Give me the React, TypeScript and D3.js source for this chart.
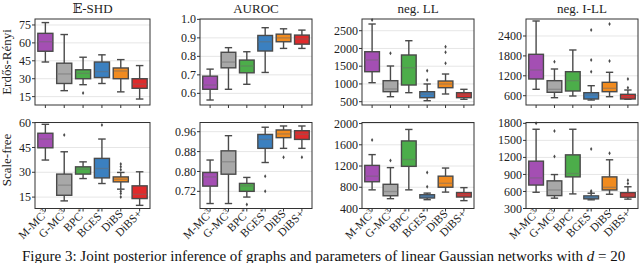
import { useEffect, useRef } from 'react';
import * as d3 from 'd3';

const methods = ['M-MC', 'G-MC', 'BPC', 'BGES', 'DiBS', 'DiBS+'];
const methodSup = ['3', '3', '*', '*', '', ''];
const colors = ['#a44fb3', '#a8a8a8', '#4cad4a', '#3b80c0', '#f18b1f', '#e02a2b'];

const titles = ['\u{1D53C}-SHD', 'AUROC', 'neg. LL', 'neg. I-LL'];
const rowLabels = ['Erdős-Rényi', 'Scale-free'];

// box stats: [whisker low, q1, median, q3, whisker high]
const erShdBoxes = [[44, 53, 61, 68, 77], [20, 26, 34, 43, 67], [25, 30, 34.5, 37.5, 48], [26, 31, 36, 44, 50], [19, 30, 36.5, 39, 46], [13, 22, 25.5, 30, 41]];
const erShdOut = [[], [], [18], [], [], []];
const erAurocBoxes = [[0.564, 0.622, 0.645, 0.693, 0.731], [0.622, 0.738, 0.769, 0.822, 0.847], [0.649, 0.711, 0.748, 0.78, 0.825], [0.713, 0.829, 0.879, 0.913, 0.955], [0.843, 0.879, 0.9, 0.92, 0.949], [0.843, 0.866, 0.894, 0.915, 0.942]];
const erAurocOut = [[], [], [], [], [], []];
const erLLBoxes = [[1035, 1345, 1675, 1908, 2689], [641, 782, 858, 1092, 1506], [754, 970, 1458, 1816, 2218], [528, 613, 708, 782, 999], [717, 894, 999, 1083, 1280], [567, 613, 689, 754, 849]];
const erLLOut = [[2801], [1863], [], [1111, 1373], [1582, 1891, 2049], []];
const erILLBoxes = [[793, 1104, 1375, 1848, 2852], [540, 703, 793, 1053, 1405], [591, 742, 1053, 1324, 1978], [470, 501, 621, 691, 902], [570, 721, 823, 1004, 1306], [491, 501, 570, 642, 772]];
const erILLOut = [[], [1625], [], [1324, 1676, 2581], [1646, 2762], [841, 1104]];

const sfShdBoxes = [[37.4, 44.8, 50.1, 53.6, 59], [12.7, 16.1, 22.2, 28.9, 42.4], [26.2, 28.9, 31.9, 33.3, 36.3], [23.2, 26.6, 32.3, 38.4, 50.1], [19.8, 24.2, 25.8, 27.2, 29.9], [10, 14.1, 16.7, 21.8, 30.3]];
const sfShdOut = [[], [52.5], [], [58.6], [31.5, 33.3, 35, 18.6, 17.1, 15], []];
const sfAurocBoxes = [[0.671, 0.741, 0.778, 0.796, 0.846], [0.671, 0.789, 0.839, 0.883, 0.944], [0.697, 0.72, 0.742, 0.752, 0.776], [0.836, 0.893, 0.929, 0.949, 0.978], [0.893, 0.936, 0.951, 0.967, 0.983], [0.893, 0.929, 0.95, 0.964, 0.983]];
const sfAurocOut = [[], [], [0.667], [0.781, 0.72], [0.857], [0.857]];
const sfLLBoxes = [[751, 904, 1009, 1212, 1415], [585, 640, 720, 856, 1170], [751, 1194, 1323, 1673, 1889], [566, 598, 627, 659, 690], [709, 801, 875, 1009, 1162], [548, 616, 659, 701, 793]];
const sfLLOut = [[1692], [1304], [], [812, 1078], [], []];
const sfILLBoxes = [[586, 713, 839, 1134, 1696], [482, 527, 626, 787, 898], [557, 857, 916, 1245, 1696], [453, 470, 499, 522, 569], [551, 626, 673, 857, 1158], [465, 499, 539, 579, 683]];
const sfILLOut = [[1800], [1216, 1666], [], [590, 610, 1349], [1273], [742, 799]];

const yDomains = [
    [[8, 80], [0.537, 1.002], [407, 2830], [320, 2912]],
    [[8.1, 60.1], [0.651, 0.997], [400, 2020], [300, 1815]],
];
const yTicks = [
    [[15, 30, 45, 60, 75], [0.6, 0.7, 0.8, 0.9, 1.0], [500, 1000, 1500, 2000, 2500], [600, 1200, 1800, 2400]],
    [[15, 30, 45, 60], [0.72, 0.8, 0.88, 0.96], [400, 800, 1200, 1600, 2000], [300, 600, 900, 1200, 1500, 1800]],
];
const tickFormats = [(d: number) => d3.format('d')(d), (d: number) => d3.format('.1f')(d), (d: number) => d3.format('d')(d), (d: number) => d3.format('d')(d)];
const tickFormatsBottom = [(d: number) => d3.format('d')(d), (d: number) => d3.format('.2f')(d), (d: number) => d3.format('d')(d), (d: number) => d3.format('d')(d)];

const panelBoxes = [
    [erShdBoxes, erAurocBoxes, erLLBoxes, erILLBoxes],
    [sfShdBoxes, sfAurocBoxes, sfLLBoxes, sfILLBoxes],
];
const panelOutliers = [
    [erShdOut, erAurocOut, erLLOut, erILLOut],
    [sfShdOut, sfAurocOut, sfLLOut, sfILLOut],
];

const FONT = "'Liberation Serif', 'DejaVu Serif', serif";
const EDGE = '#4a4a4a';

export default function App() {
    const svgRef = useRef<SVGSVGElement>(null);

    useEffect(() => {
        if (!svgRef.current) return;
        const svg = d3.select(svgRef.current);
        svg.selectAll('*').remove();

        const lefts = [35, 200, 362, 526];
        const widths = [115, 112, 112, 112];
        const tops = [19, 122.5];
        const heights = [86, 86];

        for (let r = 0; r < 2; r++) {
            for (let c = 0; c < 4; c++) {
                const x0 = lefts[c], w = widths[c];
                const y0 = tops[r], h = heights[r];
                const g = svg.append('g');

                const xScale = d3.scalePoint<string>().domain(methods).range([x0, x0 + w]).padding(0.55);
                const yScale = d3.scaleLinear().domain(yDomains[r][c]).range([y0 + h, y0]);
                const boxW = xScale.step() * 0.8;
                const fmt = r === 0 ? tickFormats[c] : tickFormatsBottom[c];

                // grid
                g.selectAll('.grid')
                    .data(yTicks[r][c])
                    .enter()
                    .append('line')
                    .attr('x1', x0).attr('x2', x0 + w)
                    .attr('y1', d => yScale(d)).attr('y2', d => yScale(d))
                    .attr('stroke', '#e6e6e6')
                    .attr('stroke-width', 1);

                // boxes
                panelBoxes[r][c].forEach((b, i) => {
                    const cx = xScale(methods[i]) as number;
                    const [lo, q1, med, q3, hi] = b;
                    const col = colors[i];
                    g.append('line')
                        .attr('x1', cx).attr('x2', cx)
                        .attr('y1', yScale(hi)).attr('y2', yScale(q3))
                        .attr('stroke', EDGE).attr('stroke-width', 1.4);
                    g.append('line')
                        .attr('x1', cx).attr('x2', cx)
                        .attr('y1', yScale(q1)).attr('y2', yScale(lo))
                        .attr('stroke', EDGE).attr('stroke-width', 1.4);
                    [lo, hi].forEach(v => {
                        g.append('line')
                            .attr('x1', cx - boxW / 4).attr('x2', cx + boxW / 4)
                            .attr('y1', yScale(v)).attr('y2', yScale(v))
                            .attr('stroke', EDGE).attr('stroke-width', 1.4);
                    });
                    g.append('rect')
                        .attr('x', cx - boxW / 2)
                        .attr('y', yScale(q3))
                        .attr('width', boxW)
                        .attr('height', Math.max(0.5, yScale(q1) - yScale(q3)))
                        .attr('fill', col)
                        .attr('stroke', EDGE)
                        .attr('stroke-width', 1.4);
                    g.append('line')
                        .attr('x1', cx - boxW / 2 + 0.7).attr('x2', cx + boxW / 2 - 0.7)
                        .attr('y1', yScale(med)).attr('y2', yScale(med))
                        .attr('stroke', d3.interpolateRgb(col, '#6a6a6a')(0.45))
                        .attr('stroke-width', 1.4);

                    // fliers
                    g.selectAll(`.fl${i}`)
                        .data(panelOutliers[r][c][i])
                        .enter()
                        .append('path')
                        .attr('d', 'M0,-2L1.2,0L0,2L-1.2,0Z')
                        .attr('transform', d => `translate(${cx},${yScale(d)})`)
                        .attr('fill', EDGE);
                });

                // frame
                g.append('rect')
                    .attr('x', x0).attr('y', y0)
                    .attr('width', w).attr('height', h)
                    .attr('fill', 'none')
                    .attr('stroke', '#333')
                    .attr('stroke-width', 1);

                // y axis ticks
                yTicks[r][c].forEach(t => {
                    g.append('line')
                        .attr('x1', x0 - 3).attr('x2', x0)
                        .attr('y1', yScale(t)).attr('y2', yScale(t))
                        .attr('stroke', '#333');
                    g.append('text')
                        .attr('x', x0 - 4)
                        .attr('y', yScale(t))
                        .attr('dy', '0.34em')
                        .attr('text-anchor', 'end')
                        .style('font-family', FONT)
                        .style('font-size', '12px')
                        .attr('fill', '#222')
                        .text(fmt(t));
                });

                // x ticks
                methods.forEach((m, i) => {
                    const cx = xScale(m) as number;
                    g.append('line')
                        .attr('x1', cx).attr('x2', cx)
                        .attr('y1', y0 + h).attr('y2', y0 + h + 3)
                        .attr('stroke', '#333');
                    if (r === 1) {
                        const t = g.append('text')
                            .attr('transform', `translate(${cx + 3},${y0 + h + 6}) rotate(-45)`)
                            .attr('text-anchor', 'end')
                            .style('font-family', FONT)
                            .style('font-size', '11.5px')
                            .attr('fill', '#222');
                        t.append('tspan').text(m);
                        if (methodSup[i]) {
                            t.append('tspan')
                                .attr('dy', -4)
                                .style('font-size', '7.5px')
                                .text(methodSup[i]);
                        }
                    }
                });

                if (r === 0) {
                    g.append('text')
                        .attr('x', x0 + w / 2)
                        .attr('y', 13)
                        .attr('text-anchor', 'middle')
                        .style('font-family', FONT)
                        .style('font-size', '13px')
                        .attr('fill', '#222')
                        .text(titles[c]);
                }
            }
        }

        // row labels
        const rowCenters = [62, 160];
        rowLabels.forEach((lab, r) => {
            svg.append('text')
                .attr('transform', `translate(11,${rowCenters[r]}) rotate(-90)`)
                .attr('text-anchor', 'middle')
                .style('font-family', FONT)
                .style('font-size', '13px')
                .attr('fill', '#222')
                .text(lab);
        });

        // caption
        const cap = svg.append('text')
            .attr('x', 22)
            .attr('y', 261)
            .style('font-family', FONT)
            .style('font-size', '15px')
            .attr('fill', '#111');
        cap.append('tspan').text('Figure 3: Joint posterior inference of graphs and parameters of linear Gaussian networks with ');
        cap.append('tspan').style('font-style', 'italic').text('d');
        cap.append('tspan').text(' = 20');
    }, []);

    return (
        <svg ref={svgRef} width={640} height={263}
            style={{ position: 'absolute', left: 0, top: 0, background: '#fff' }} />
    );
}
